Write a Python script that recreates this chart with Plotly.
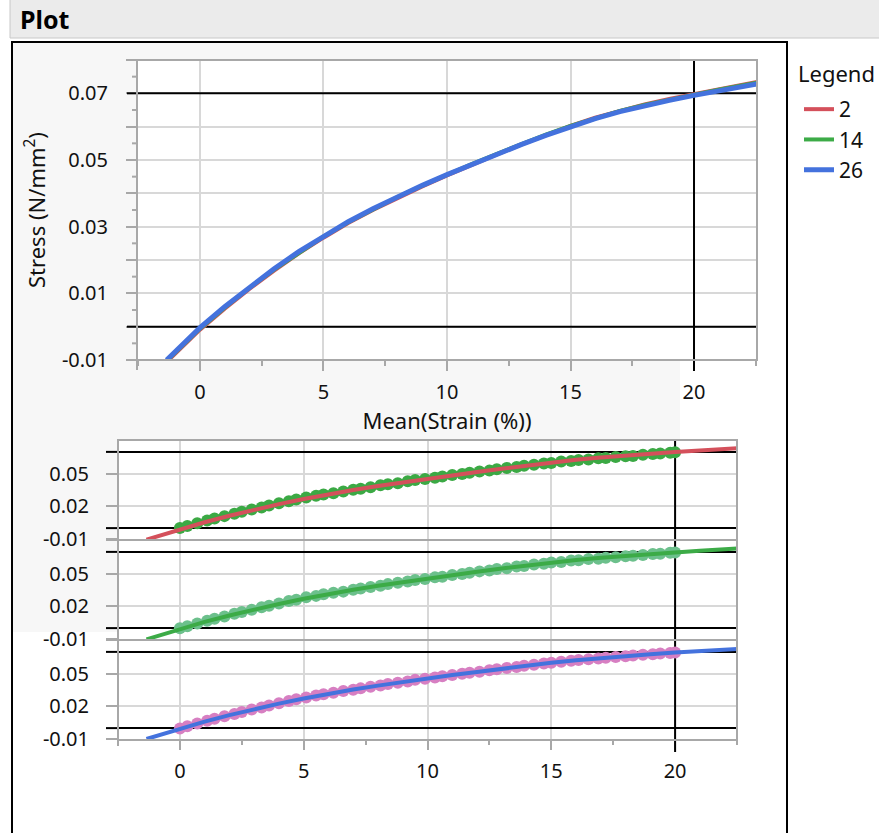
import plotly.graph_objects as go

# ---------------- data ----------------
legend_names = ["2", "14", "26"]

# smoothed (fit) curves: Mean(Strain (%)) vs Stress (N/mm^2)
strain_fit = [-1.35, 0, 1, 2, 3, 4, 5, 6, 7, 8, 9, 10, 11, 12, 13, 14, 15, 16, 17, 18, 19, 20, 21, 22.55]
stress_fit_2 = [-0.0106, -0.0009, 0.0054, 0.0113, 0.0168, 0.0220, 0.0267, 0.0311, 0.0350, 0.0387, 0.0421, 0.0454,
                0.0486, 0.0516, 0.0546, 0.0575, 0.0602, 0.0627, 0.0648, 0.0667, 0.0683, 0.0698, 0.0713, 0.0734]
stress_fit_14 = [-0.0103, -0.0006, 0.0057, 0.0116, 0.0171, 0.0222, 0.0270, 0.0313, 0.0352, 0.0389, 0.0423, 0.0456,
                 0.0488, 0.0518, 0.0548, 0.0576, 0.0602, 0.0626, 0.0647, 0.0665, 0.0681, 0.0696, 0.0711, 0.0732]
stress_fit_26 = [-0.0100, -0.0003, 0.0060, 0.0119, 0.0174, 0.0225, 0.0272, 0.0315, 0.0354, 0.0390, 0.0424, 0.0456,
                 0.0487, 0.0516, 0.0546, 0.0574, 0.0600, 0.0624, 0.0645, 0.0663, 0.0679, 0.0694, 0.0708, 0.0728]

# raw measured points
strain_pts = [0.0, 0.3, 0.7, 1.1, 1.4, 1.8, 2.2, 2.5, 2.9, 3.3, 3.6, 4.0, 4.4, 4.7, 5.1, 5.5, 5.8, 6.2, 6.6, 7.0,
              7.3, 7.7, 8.1, 8.4, 8.8, 9.2, 9.5, 9.9, 10.3, 10.6, 11.0, 11.4, 11.7, 12.1, 12.5, 12.8, 13.2, 13.6, 13.9, 14.3,
              14.7, 15.0, 15.4, 15.8, 16.1, 16.5, 16.9, 17.2, 17.6, 18.0, 18.3, 18.7, 19.1, 19.4, 19.8, 20.0]
stress_pts_2 = [0.0001, 0.0019, 0.0045, 0.0070, 0.0088, 0.0110, 0.0131, 0.0150, 0.0171, 0.0190,
                0.0207, 0.0229, 0.0247, 0.0262, 0.0281, 0.0298, 0.0309, 0.0321, 0.0337, 0.0353,
                0.0362, 0.0376, 0.0393, 0.0403, 0.0413, 0.0430, 0.0441, 0.0450, 0.0463, 0.0475,
                0.0487, 0.0496, 0.0509, 0.0520, 0.0528, 0.0541, 0.0553, 0.0561, 0.0573, 0.0582,
                0.0594, 0.0598, 0.0611, 0.0617, 0.0626, 0.0631, 0.0641, 0.0644, 0.0654, 0.0660,
                0.0663, 0.0673, 0.0680, 0.0685, 0.0692, 0.0696]
stress_pts_14 = [-0.0002, 0.0017, 0.0043, 0.0067, 0.0086, 0.0107, 0.0132, 0.0147, 0.0169, 0.0191,
                 0.0205, 0.0227, 0.0248, 0.0261, 0.0283, 0.0296, 0.0310, 0.0324, 0.0335, 0.0352,
                 0.0364, 0.0378, 0.0390, 0.0404, 0.0416, 0.0428, 0.0442, 0.0451, 0.0466, 0.0472,
                 0.0488, 0.0497, 0.0508, 0.0521, 0.0530, 0.0542, 0.0550, 0.0565, 0.0570, 0.0585,
                 0.0591, 0.0602, 0.0608, 0.0620, 0.0623, 0.0634, 0.0638, 0.0647, 0.0651, 0.0661,
                 0.0665, 0.0671, 0.0681, 0.0683, 0.0693, 0.0695]
stress_pts_26 = [-0.0004, 0.0018, 0.0042, 0.0068, 0.0085, 0.0109, 0.0130, 0.0148, 0.0170, 0.0189,
                 0.0208, 0.0228, 0.0249, 0.0264, 0.0282, 0.0299, 0.0311, 0.0325, 0.0340, 0.0352,
                 0.0365, 0.0379, 0.0392, 0.0405, 0.0417, 0.0429, 0.0443, 0.0453, 0.0465, 0.0476,
                 0.0487, 0.0499, 0.0508, 0.0518, 0.0532, 0.0540, 0.0552, 0.0562, 0.0572, 0.0582,
                 0.0593, 0.0601, 0.0610, 0.0619, 0.0625, 0.0633, 0.0640, 0.0646, 0.0653, 0.0659,
                 0.0666, 0.0673, 0.0678, 0.0686, 0.0690, 0.0695]

# ticks / reference values
x_tick_vals = [0, 5, 10, 15, 20]
x_minor_vals = [-2.5, 2.5, 7.5, 12.5, 17.5, 22.5]
top_ytick_vals = [-0.01, 0.01, 0.03, 0.05, 0.07]
top_ytick_text = ["-0.01", "0.01", "0.03", "0.05", "0.07"]
top_ygrid_vals = [0.0, 0.02, 0.04, 0.06, 0.08]
top_ysmall_vals = [-0.005, 0.005, 0.015, 0.025, 0.035, 0.045, 0.055, 0.065, 0.075]
sub_ytick_vals = [-0.01, 0.02, 0.05]
sub_ytick_text = ["-0.01", "0.02", "0.05"]
ref_y_vals = [0.07, 0.0]
ref_x_val = 20

# ---------------- style ----------------
W, H = 879, 833
FONT = "Noto Sans"
line_colors = ["#d4505b", "#3cab47", "#4472dd"]
line_widths = [4, 4, 5]
marker_colors = ["#3ba944", "#6cc08c", "#d77fc2"]
AX_GRAY = "#a8a8a8"
GRID = "#d8d8d8"
TXT = "#111111"


def px(x):
    return x / W


def py(y):
    return 1 - y / H


fig = go.Figure()

# top panel: three fit curves
fits = [stress_fit_2, stress_fit_14, stress_fit_26]
for name, ys, c, w in zip(legend_names, fits, line_colors, line_widths):
    fig.add_trace(go.Scatter(x=strain_fit, y=ys, mode="lines", name=name,
                             line=dict(color=c, width=w), xaxis="x", yaxis="y"))

# bottom panels: points + fit
pts = [stress_pts_2, stress_pts_14, stress_pts_26]
yax = ["y2", "y3", "y4"]
for i in range(3):
    fig.add_trace(go.Scatter(x=strain_pts, y=pts[i], mode="markers", showlegend=False,
                             marker=dict(color=marker_colors[i], size=12, line=dict(width=0)),
                             xaxis="x2", yaxis=yax[i]))
    fig.add_trace(go.Scatter(x=strain_fit, y=fits[i], mode="lines", showlegend=False,
                             line=dict(color=line_colors[i], width=4),
                             xaxis="x2", yaxis=yax[i]))

tickfont = dict(family=FONT, size=20, color=TXT)
titlefont = dict(family=FONT, size=22, color=TXT)

common_x = dict(range=[-2.5, 22.5], tickvals=x_tick_vals, ticktext=[str(v) for v in x_tick_vals],
                ticks="outside", ticklen=10, tickwidth=2, tickcolor=AX_GRAY,
                showgrid=True, gridcolor=GRID, gridwidth=2, zeroline=False, showline=False,
                minor=dict(tickvals=x_minor_vals, ticks="outside", ticklen=5, tickwidth=2,
                           tickcolor=AX_GRAY, showgrid=False),
                tickfont=tickfont, ticklabelstandoff=4, automargin=False)

fig.update_layout(
    width=W, height=H, autosize=False,
    margin=dict(l=0, r=0, t=0, b=0, pad=0, autoexpand=False),
    paper_bgcolor="white", plot_bgcolor="rgba(0,0,0,0)",
    font=dict(family=FONT, size=20, color=TXT),
    xaxis=dict(domain=[px(137), px(757)], anchor="y", **{**common_x, "range": [-2.55, 22.55]},
               title=dict(text="Mean(Strain (%))", font=titlefont, standoff=6)),
    yaxis=dict(domain=[py(360), py(60)], anchor="x", range=[-0.01, 0.08],
               tickvals=top_ytick_vals, ticktext=top_ytick_text,
               ticks="outside", ticklen=10, tickwidth=2, tickcolor=AX_GRAY,
               showgrid=True, gridcolor=GRID, gridwidth=2, zeroline=False, showline=False,
               minor=dict(tickvals=top_ygrid_vals, ticks="outside", ticklen=10, tickwidth=2,
                          tickcolor=AX_GRAY, showgrid=True, gridcolor=GRID, gridwidth=2),
               tickfont=tickfont, ticklabelstandoff=14, automargin=False,
               title=dict(text="Stress (N/mm<sup>2</sup>)", font=titlefont, standoff=10)),
    xaxis2=dict(domain=[px(118), px(737)], anchor="y4", **common_x),
    legend=dict(x=px(799), y=py(89), xanchor="left", yanchor="top", bgcolor="rgba(0,0,0,0)",
                font=dict(family=FONT, size=21, color=TXT), tracegroupgap=0),
)

sub_domains = [(441, 539), (541, 639), (641, 739)]
for i, (t, b) in enumerate(sub_domains):
    fig.layout["yaxis%d" % (i + 2)] = dict(
        domain=[py(b), py(t)], anchor="x2", range=[-0.01, 0.08],
        tickvals=sub_ytick_vals, ticktext=sub_ytick_text,
        ticks="outside", ticklen=11, tickwidth=2, tickcolor=AX_GRAY,
        showgrid=True, gridcolor=GRID, gridwidth=2, zeroline=False, showline=False,
        tickfont=tickfont, ticklabelstandoff=13, automargin=False)

shapes = []
# background pieces
shapes.append(dict(type="rect", xref="paper", yref="paper", x0=px(10), x1=px(885), y0=py(38), y1=py(-5),
                   fillcolor="#ebebeb", line=dict(color="#c8c8c8", width=1), layer="below"))
shapes.append(dict(type="rect", xref="paper", yref="paper", x0=px(13), x1=px(680), y0=py(632), y1=py(43),
                   fillcolor="#f7f7f7", line=dict(width=0), layer="below"))
shapes.append(dict(type="rect", xref="paper", yref="paper", x0=px(137), x1=px(757), y0=py(360), y1=py(60),
                   fillcolor="white", line=dict(width=0), layer="below"))
shapes.append(dict(type="rect", xref="paper", yref="paper", x0=px(118), x1=px(737), y0=py(740), y1=py(440),
                   fillcolor="white", line=dict(width=0), layer="below"))
shapes.append(dict(type="rect", xref="paper", yref="paper", x0=px(12), x1=px(787), y0=py(860), y1=py(42),
                   fillcolor="rgba(0,0,0,0)", line=dict(color="black", width=2), layer="below"))

# small (half-step) ticks on the top stress axis
for v in top_ysmall_vals:
    shapes.append(dict(type="line", xref="paper", yref="y", x0=px(132), x1=px(137), y0=v, y1=v,
                       line=dict(color=AX_GRAY, width=2), layer="above"))

# reference lines, top panel
for v in ref_y_vals:
    shapes.append(dict(type="line", xref="x", yref="y", x0=-2.55, x1=22.55, y0=v, y1=v,
                       line=dict(color="black", width=2), layer="between"))
    shapes.append(dict(type="line", xref="paper", yref="y", x0=px(127), x1=px(137), y0=v, y1=v,
                       line=dict(color="black", width=2), layer="above"))
shapes.append(dict(type="line", xref="x", yref="y", x0=ref_x_val, x1=ref_x_val, y0=-0.01, y1=0.08,
                   line=dict(color="black", width=2), layer="between"))
shapes.append(dict(type="line", xref="x", yref="paper", x0=ref_x_val, x1=ref_x_val, y0=py(371), y1=py(360),
                   line=dict(color="black", width=2), layer="above"))

# reference lines, bottom panels
for ya in yax:
    for v in ref_y_vals:
        shapes.append(dict(type="line", xref="x2", yref=ya, x0=-2.5, x1=22.5, y0=v, y1=v,
                           line=dict(color="black", width=2), layer="between"))
        shapes.append(dict(type="line", xref="paper", yref=ya, x0=px(106), x1=px(118), y0=v, y1=v,
                           line=dict(color="black", width=2), layer="above"))
    shapes.append(dict(type="line", xref="x2", yref=ya, x0=ref_x_val, x1=ref_x_val, y0=-0.01, y1=0.08,
                       line=dict(color="black", width=2), layer="between"))
shapes.append(dict(type="line", xref="x2", yref="paper", x0=ref_x_val, x1=ref_x_val, y0=py(752), y1=py(740),
                   line=dict(color="black", width=2), layer="above"))

# frames
shapes.append(dict(type="rect", xref="paper", yref="paper", x0=px(137), x1=px(757), y0=py(360), y1=py(60),
                   fillcolor="rgba(0,0,0,0)", line=dict(color=AX_GRAY, width=2), layer="above"))
shapes.append(dict(type="line", xref="paper", yref="paper", x0=px(137), x1=px(137), y0=py(370), y1=py(360),
                   line=dict(color=AX_GRAY, width=2), layer="above"))
shapes.append(dict(type="rect", xref="paper", yref="paper", x0=px(118), x1=px(737), y0=py(740), y1=py(440),
                   fillcolor="rgba(0,0,0,0)", line=dict(color=AX_GRAY, width=2), layer="above"))
for yy in (540, 640):
    shapes.append(dict(type="line", xref="paper", yref="paper", x0=px(106), x1=px(737), y0=py(yy), y1=py(yy),
                       line=dict(color=AX_GRAY, width=2), layer="above"))
shapes.append(dict(type="line", xref="paper", yref="paper", x0=px(118), x1=px(118), y0=py(746), y1=py(740),
                   line=dict(color=AX_GRAY, width=2), layer="above"))

fig.update_layout(shapes=shapes)

fig.add_annotation(text="<b>Plot</b>", xref="paper", yref="paper", x=px(18), y=py(19),
                   xanchor="left", yanchor="middle", showarrow=False,
                   font=dict(family=FONT, size=25, color="black"))
fig.add_annotation(text="Legend", xref="paper", yref="paper", x=px(796), y=py(73),
                   xanchor="left", yanchor="middle", showarrow=False,
                   font=dict(family=FONT, size=22, color=TXT))

fig.write_html("out.html")
